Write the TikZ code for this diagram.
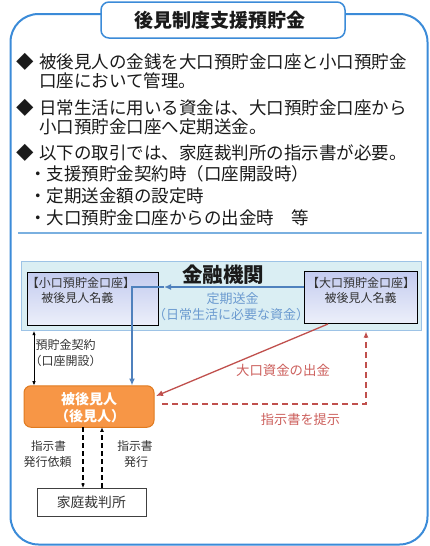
\documentclass[tikz,border=0pt]{standalone}
\usepackage{fontspec}
\setmainfont{Noto Sans CJK JP}
\usetikzlibrary{arrows.meta,shadows}
\definecolor{frameblue}{HTML}{3B8BD8}
\definecolor{sepblue}{HTML}{7AB0E0}
\definecolor{bankfill}{HTML}{DAEEF3}
\definecolor{bankdraw}{HTML}{9DC3E6}
\definecolor{acctop}{HTML}{C3CBEF}
\definecolor{accbot}{HTML}{ECEFFA}
\definecolor{arrowblue}{HTML}{4F81BD}
\definecolor{textblue}{HTML}{6C9BD0}
\definecolor{orangefill}{HTML}{F79646}
\definecolor{orangedraw}{HTML}{E07B20}
\definecolor{redline}{HTML}{C0504D}
\definecolor{redtext}{HTML}{CC5F5C}
\definecolor{textdark}{HTML}{1A1A1A}
\definecolor{labelgray}{HTML}{333333}
\tikzset{
  body/.style={anchor=west, text=textdark, font=\fontsize{17.5}{20}\selectfont},
  acct/.style={draw=black, line width=0.9pt, top color=acctop, bottom color=accbot,
    minimum width=#1, drop shadow={shadow xshift=1pt, shadow yshift=-1pt, opacity=0.25}},
  acctext/.style={text=labelgray, font=\fontsize{12}{14}\selectfont},
  smalllabel/.style={text=labelgray, font=\fontsize{12}{14}\selectfont},
  bluetext/.style={text=textblue, font=\fontsize{13}{15}\selectfont},
  redlabel/.style={text=redtext, font=\fontsize{13.4}{15}\selectfont},
}
\begin{document}
\begin{tikzpicture}[x=1pt,y=-1pt, every node/.style={inner sep=0pt, outer sep=0pt}]
\useasboundingbox (0,0) rectangle (430,546);
% outer frame
\draw[frameblue, line width=2pt, rounded corners=28pt] (10.5,14) rectangle (427.5,544.5);
% title
\node[draw=frameblue, line width=1.5pt, fill=white, rounded corners=8pt,
  minimum width=244pt, minimum height=36pt] (title) at (223,20) {};
\node[font=\bfseries\fontsize{19}{21}\selectfont, text=textdark] (titletext) at (220,20) {後見制度支援預貯金};
% bullets
\node[body, anchor=center] (d1) at (25,62) {◆};
\node[body] (l1) at (39.2,62) {被後見人の金銭を大口預貯金口座と小口預貯金};
\node[body] (l2) at (39.2,81) {口座において管理。};
\node[body, anchor=center] (d2) at (25,108) {◆};
\node[body] (l3) at (39.2,108) {日常生活に用いる資金は、大口預貯金口座から};
\node[body] (l4) at (39.2,127) {小口預貯金口座へ定期送金。};
\node[body, anchor=center] (d3) at (25,153) {◆};
\node[body] (l5) at (39.2,153) {以下の取引では、家庭裁判所の指示書が必要。};
\node[body] (l6) at (29.2,174) {・支援預貯金契約時（口座開設時）};
\node[body] (l7) at (29.2,196) {・定期送金額の設定時};
\node[body] (l8) at (29.2,218) {・大口預貯金口座からの出金時　等};
% separator
\coordinate (sepL) at (18,233);
\coordinate (sepR) at (422,233);
\draw[sepblue, line width=1.3pt] (sepL) -- (sepR);
% bank box
\node[draw=bankdraw, fill=bankfill, line width=1pt, minimum width=400pt, minimum height=69pt] (bank) at (221.7,296.2) {};
\node[font=\bfseries\fontsize{20.5}{22}\selectfont, text=textdark] (banktext) at (223,275) {金融機関};
% accounts
\node[acct=131pt, minimum height=52.3pt] (small) at (92.8,298.8) {};
\node[acct=113pt, minimum height=52pt] (large) at (360.5,297) {};
\node[acctext, anchor=west] (s1) at (27,283.3) {【小口預貯金口座】};
\node[acctext, anchor=west] (s2) at (41.3,298) {被後見人名義};
\node[acctext] (g1) at (361,283.3) {【大口預貯金口座】};
\node[acctext] (g2) at (360.5,298) {被後見人名義};
% periodic transfer text
\node[bluetext] (t1) at (232.5,299) {定期送金};
\node[bluetext] (t2) at (231,315) {（日常生活に必要な資金）};
% ward box
\node[draw=orangedraw, fill=orangefill, line width=1pt, rounded corners=7pt,
  minimum width=130pt, minimum height=41.5pt] (ward) at (89,406.5) {};
\node[text=white, font=\bfseries\fontsize{14}{16}\selectfont] (w1) at (89,399.5) {被後見人};
\node[text=white, font=\bfseries\fontsize{14}{16}\selectfont] (w2) at (90,416) {（後見人）};
% court box
\node[draw=black!75, fill=white, line width=1pt, minimum width=109pt, minimum height=28pt] (court) at (91.5,502) {};
\node[text=labelgray, font=\fontsize{13.8}{15}\selectfont] (courttext) at (91.3,502) {家庭裁判所};
% blue transfer arrow
\coordinate (bStart) at (large.west |- 0,287);
\coordinate (bMid) at (164,287);
\coordinate (bCorner) at (132,287);
\coordinate (bEnd) at (132,385.5);
\draw[arrowblue, line width=1.3pt, -{Latex[length=7pt,width=6pt]}] (bStart) -- (bMid);
\draw[arrowblue, line width=1.3pt, -{Latex[length=7pt,width=6pt]}] (bMid) -- (bCorner) -- (bEnd);
% contract arrow
\coordinate (cTop) at (34,330.7);
\coordinate (cBot) at (34,385.7);
\draw[black, line width=0.9pt, {Latex[length=4.5pt,width=3.5pt]}-{Latex[length=4.5pt,width=3.5pt]}] (cTop) -- (cBot);
\node[smalllabel] (c1) at (65.7,345) {預貯金契約};
\node[smalllabel] (c2) at (65.7,361) {（口座開設）};
% red withdrawal arrow
\coordinate (rStart) at (328,324);
\coordinate (rEnd) at (156,396);
\draw[redline, line width=1.3pt, -{Latex[length=7pt,width=6pt]}] (rStart) -- (rEnd);
\node[redlabel] (r1) at (283,370) {大口資金の出金};
% red dashed
\coordinate (dStart) at (162,404);
\coordinate (dCorner) at (366,404);
\coordinate (dEnd) at (366,331.5);
\draw[redline, line width=1.5pt, dash pattern=on 6pt off 4pt, -{Latex[length=6pt,width=5pt]}] (dStart) -- (dCorner) -- (dEnd);
\node[redlabel, font=\fontsize{13.2}{15}\selectfont] (r2) at (300.5,419) {指示書を提示};
% court arrows
\coordinate (k1a) at (83,427.3);
\coordinate (k1b) at (83,488);
\coordinate (k2a) at (102,488);
\coordinate (k2b) at (102,427.3);
\draw[black, line width=1.3pt, dash pattern=on 5pt off 3pt, -{Latex[length=4.5pt,width=4pt]}] (k1a) -- (k1b);
\draw[black, line width=1.3pt, dash pattern=on 5pt off 3pt, -{Latex[length=4.5pt,width=4pt]}] (k2a) -- (k2b);
\node[smalllabel, font=\fontsize{11.6}{14}\selectfont] (q1) at (48.5,446) {指示書};
\node[smalllabel] (q2) at (47.5,462) {発行依頼};
\node[smalllabel, font=\fontsize{11.8}{14}\selectfont] (q3) at (135,446) {指示書};
\node[smalllabel] (q4) at (136,462) {発行};
\end{tikzpicture}
\end{document}
